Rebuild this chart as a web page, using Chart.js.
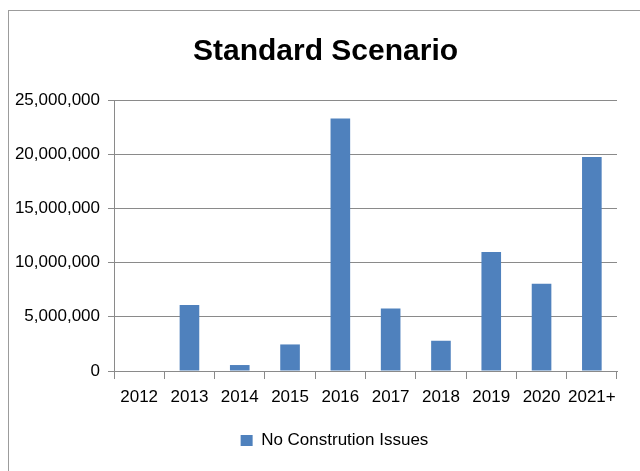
<!DOCTYPE html>
<html>
<head>
<meta charset="utf-8">
<script src="https://cdn.jsdelivr.net/npm/chart.js@4/dist/chart.umd.min.js"></script>
<style>
  html, body { margin: 0; padding: 0; background: #fff; }
  #wrap { position: relative; width: 640px; height: 471px; overflow: hidden; }
  #frame { position: absolute; left: 8px; top: 10px; width: 700px; height: 600px;
           border-left: 1px solid #9c9c9c; border-top: 1px solid #9c9c9c; box-sizing: border-box; }
  canvas { position: absolute; left: 0; top: 0; }
</style>
</head>
<body>
<div id="wrap">
  <div id="frame"></div>
  <canvas id="c" width="640" height="471"></canvas>
</div>
<script>
// Annual amounts, standard scenario
const years = ['2012', '2013', '2014', '2015', '2016', '2017', '2018', '2019', '2020', '2021+'];
const noConstructionIssues = [0, 6100000, 550000, 2450000, 23300000, 5770000, 2790000, 10980000, 8040000, 19750000];
const yTicks = [0, 5000000, 10000000, 15000000, 20000000, 25000000];

const gridGray = '#8a8a8a';
const barBlue = '#4f81bd';
const sans = '"Liberation Sans", Arial, sans-serif';

// The title and legend sit centred on the full frame, a little right of the plot centre
const nudgeBlocks = {
  id: 'nudgeBlocks',
  afterLayout(chart) {
    if (chart.titleBlock) { chart.titleBlock.left += 13; chart.titleBlock.right += 13; }
    if (chart.legend) { chart.legend.left += 22; chart.legend.right += 22; }
  }
};

new Chart(document.getElementById('c'), {
  type: 'bar',
  data: {
    labels: years,
    datasets: [{
      label: 'No Constrution Issues',
      data: noConstructionIssues,
      backgroundColor: barBlue,
      borderWidth: 0,
      categoryPercentage: 1.0,
      barPercentage: 0.39
    }]
  },
  plugins: [nudgeBlocks],
  options: {
    responsive: false,
    animation: false,
    devicePixelRatio: 1,
    layout: { padding: { left: 8, right: 23, top: 0, bottom: 12 } },
    plugins: {
      title: {
        display: true,
        text: 'Standard Scenario',
        color: '#000',
        font: { family: sans, size: 30, weight: 'bold' },
        padding: { top: 34, bottom: 30 }
      },
      legend: {
        display: true,
        position: 'bottom',
        labels: {
          color: '#000',
          boxWidth: 12,
          boxHeight: 11,
          font: { family: sans, size: 17 }
        }
      },
      tooltip: { enabled: false }
    },
    scales: {
      x: {
        afterFit: (scale) => { scale.height = 51; },
        grid: { display: true, drawOnChartArea: false, color: gridGray, tickLength: 8, offset: true },
        border: { display: true, color: gridGray, width: 1 },
        ticks: {
          color: '#000', padding: 8, maxRotation: 0, minRotation: 0, autoSkip: false,
          font: { family: sans, size: 17 }
        }
      },
      y: {
        min: 0,
        max: 25000000,
        afterBuildTicks: (scale) => { scale.ticks = yTicks.map(v => ({ value: v })); },
        afterFit: (scale) => { scale.width = 106; },
        grid: { color: gridGray, tickLength: 6 },
        border: { display: true, color: gridGray, width: 1 },
        ticks: {
          color: '#000', padding: 8,
          font: { family: sans, size: 17 },
          callback: (v) => Number(v).toLocaleString('en-US')
        }
      }
    }
  }
});
</script>
</body>
</html>
